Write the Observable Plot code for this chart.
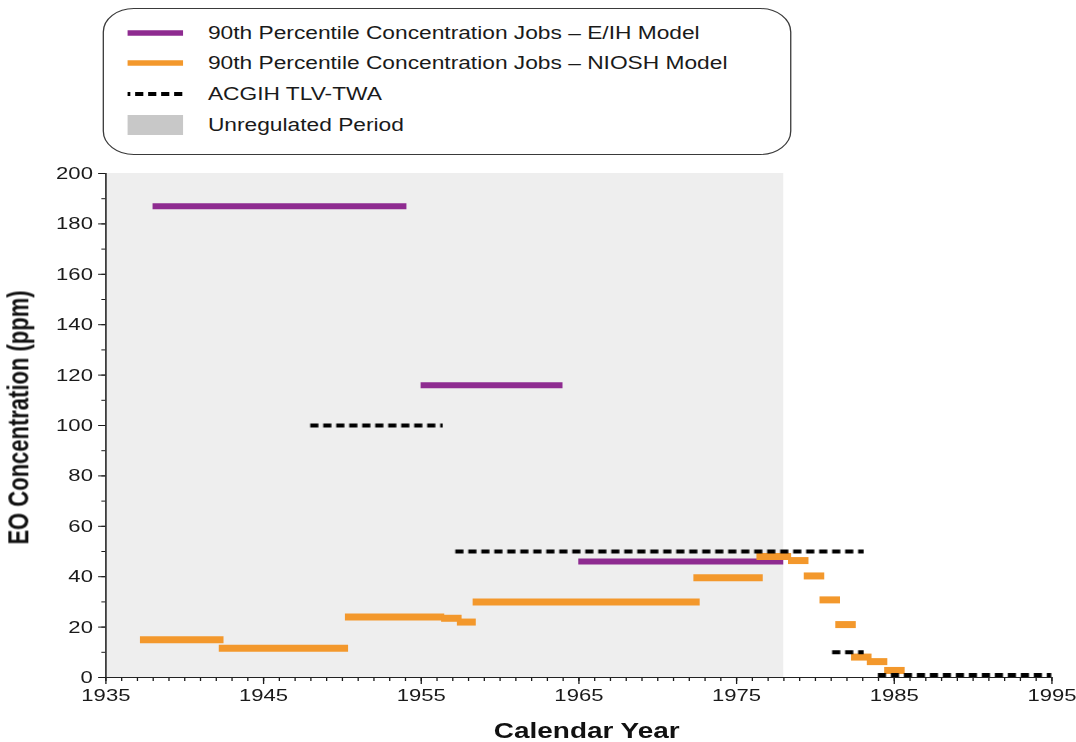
<!DOCTYPE html>
<html>
<head>
<meta charset="utf-8">
<script src="https://cdn.jsdelivr.net/npm/d3@7"></script>
<script src="https://cdn.jsdelivr.net/npm/@observablehq/plot@0.6"></script>
<style>
  html, body { margin: 0; padding: 0; background: #fff; overflow: hidden; }
  #wrap { position: relative; width: 828px; height: 742px; transform: scaleX(1.2995); transform-origin: 0 0;
          font-family: "Liberation Sans", Arial, Helvetica, sans-serif; }
  #legend { position: absolute; left: 79px; top: 8px; width: 530px; height: 147px; box-sizing: border-box;
            border: 1.5px solid #3a3a3a; border-radius: 24px; background: #fff; }
  .row { position: absolute; left: 0; width: 100%; height: 20px; }
  .row svg { position: absolute; left: 18px; top: 0; }
  .row span { position: absolute; left: 80px; top: 0; line-height: 20px; font-size: 17.5px; color: #1a1a1a; white-space: nowrap; }
  #chart { position: absolute; left: 0; top: 160px; }
</style>
</head>
<body>
<div id="wrap"><div id="legend"></div><div id="chart"></div></div>
<script>
// ---- Data ----
const unregulatedStart = [1935];
const unregulatedEnd = [1978];

const eihStart = [1938, 1955, 1965];
const eihEnd   = [1954.1, 1964, 1978];
const eihValue = [187, 116, 46];

const nioshStart = [1937.2, 1942.2, 1950.2, 1956.3, 1957.3, 1958.3, 1972.3, 1976.3, 1978.3, 1979.3, 1980.3, 1981.3, 1982.3, 1983.3, 1984.4];
const nioshEnd   = [1942.5, 1950.4, 1956.5, 1957.6, 1958.5, 1972.7, 1976.7, 1978.5, 1979.6, 1980.6, 1981.6, 1982.6, 1983.6, 1984.6, 1985.7];
const nioshValue = [15, 11.6, 24, 23.5, 22, 30, 39.6, 48, 46.4, 40.3, 30.8, 21, 8.1, 6.3, 2.8];

const tlvStart = [1948, 1957.2, 1981.1, 1984];
const tlvEnd   = [1956.4, 1983.1, 1983.1, 1995];
const tlvValue = [100, 50, 10, 1];

const yMajorTicks = [0, 20, 40, 60, 80, 100, 120, 140, 160, 180, 200];
const xMajorTicks = [1935, 1945, 1955, 1965, 1975, 1985, 1995];

const legendLabels = [
  "90th Percentile Concentration Jobs \u2013 E/IH Model",
  "90th Percentile Concentration Jobs \u2013 NIOSH Model",
  "ACGIH TLV-TWA",
  "Unregulated Period"
];
const yTitle = "EO Concentration (ppm)";
const xTitle = "Calendar Year";

const purple = "#8e2b90", orange = "#f3982c";

// ---- Build tables ----
const seg = (s, e, v) => s.map((d, i) => ({start: d, end: e[i], value: v[i]}));
const eih = seg(eihStart, eihEnd, eihValue);
const niosh = seg(nioshStart, nioshEnd, nioshValue);
const tlv = seg(tlvStart, tlvEnd, tlvValue);
const unreg = unregulatedStart.map((d, i) => ({x1: d, x2: unregulatedEnd[i], y1: yMajorTicks[0], y2: yMajorTicks[yMajorTicks.length - 1]}));

// ---- Legend ----
const legend = document.getElementById("legend");
const rowTops = [13.5, 43.5, 74.5, 105.5];
const swatches = [
  `<svg width="43" height="20"><line x1="0" x2="43" y1="10" y2="10" stroke="${purple}" stroke-width="5.5"/></svg>`,
  `<svg width="43" height="20"><line x1="0" x2="43" y1="10" y2="10" stroke="${orange}" stroke-width="5.5"/></svg>`,
  `<svg width="43" height="20"><line x1="0" x2="43" y1="10" y2="10" stroke="#000" stroke-width="4" stroke-dasharray="6.3,3.7" stroke-dashoffset="4"/></svg>`,
  `<svg width="43" height="20"><rect x="0" y="0" width="43" height="20" fill="#c8c8c8"/></svg>`
];
legendLabels.forEach((t, i) => {
  const r = document.createElement("div");
  r.className = "row";
  r.style.top = rowTops[i] + "px";
  r.innerHTML = swatches[i] + `<span>${t}</span>`;
  legend.appendChild(r);
});

// ---- Chart ----
const chart = Plot.plot({
  width: 828,
  height: 582,
  marginLeft: 81,
  marginRight: 19,
  marginTop: 13,
  marginBottom: 65,
  style: {fontFamily: '"Liberation Sans", Arial, Helvetica, sans-serif', fontSize: "17px", color: "#1a1a1a", background: "transparent"},
  x: {domain: [1935, 1995]},
  y: {domain: [0, 200]},
  marks: [
    Plot.rect(unreg, {x1: "x1", x2: "x2", y1: "y1", y2: "y2", fill: "#eeeeee"}),
    Plot.axisY({ticks: d3.range(0, 201, 10), tickSize: 3, tickFormat: () => "", label: null}),
    Plot.axisY({ticks: yMajorTicks, tickSize: 5.5, tickPadding: 4.5, label: null, fontSize: 17}),
    Plot.axisX({ticks: d3.range(1935, 1996, 1), tickSize: 4, tickFormat: () => "", label: null}),
    Plot.axisX({ticks: xMajorTicks, tickSize: 7, tickPadding: 4, tickFormat: d => String(d), label: null, fontSize: 17}),
    Plot.ruleX([1935], {stroke: "#222", strokeWidth: 1.2}),
    Plot.ruleY([0], {stroke: "#222", strokeWidth: 1.2}),
    Plot.ruleY(eih, {x1: "start", x2: "end", y: "value", stroke: purple, strokeWidth: 6}),
    Plot.ruleY(niosh, {x1: "start", x2: "end", y: "value", stroke: orange, strokeWidth: 7}),
    Plot.ruleY(tlv, {x1: "start", x2: "end", y: "value", stroke: "#000", strokeWidth: 4, strokeDasharray: "6.3,3.7"}),
    Plot.text([yTitle], {text: d => d, frameAnchor: "left", rotate: -90, dx: -67, dy: -8, fontSize: 22, fontWeight: "bold", textAnchor: "middle", lineAnchor: "middle", fill: "#111"}),
    Plot.text([xTitle], {text: d => d, frameAnchor: "bottom", dx: 6, dy: 54, fontSize: 21.5, fontWeight: "bold", textAnchor: "middle", lineAnchor: "middle", fill: "#111"})
  ]
});
document.getElementById("chart").appendChild(chart);
</script>
</body>
</html>
